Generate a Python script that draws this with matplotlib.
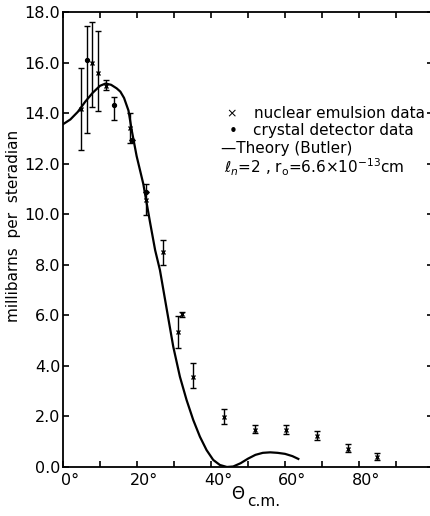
import numpy as np
import matplotlib.pyplot as plt
from matplotlib.transforms import ScaledTranslation

# ── data ─────────────────────────────────────────────────────────
# nuclear emulsion points (x markers) with error bar bottoms/tops
em_theta = [4.8, 7.9, 9.5, 11.6, 18.1, 22.3, 26.9, 31.2, 32.1, 35.2,
            43.6, 51.9, 60.2, 68.7, 76.9, 85.0]
em_sigma = [14.18, 15.98, 15.58, 15.06, 13.41, 10.55, 8.51, 5.35, 6.07, 3.57,
            1.99, 1.46, 1.46, 1.24, 0.71, 0.41]
em_low = [12.55, 14.24, 14.07, 14.90, 12.82, 9.96, 7.98, 4.69, 5.94, 3.11,
          1.70, 1.33, 1.30, 1.07, 0.61, 0.28]
em_high = [15.78, 17.60, 17.25, 15.30, 14.00, 11.21, 9.00, 5.97, 6.14, 4.10,
           2.28, 1.66, 1.66, 1.43, 0.90, 0.54]

# crystal detector points (dots)
cr_theta = [6.4, 13.9, 18.7, 22.3]
cr_sigma = [16.10, 14.34, 12.92, 10.88]
cr_low = [13.21, 13.72, 12.92, 10.88]
cr_high = [17.44, 14.64, 12.92, 10.88]

# Butler theory curve
th_theta = [0, 2, 4, 6, 8, 10, 11.5, 13, 14.5, 15.5, 16.5, 17.7, 18.6, 19.9,
            21.7, 23.5, 24.9, 26.2, 28.0, 29.8, 31.6, 33.4, 35.2, 37.0, 38.8,
            40.6, 42.4, 44.3, 46, 48, 50, 52, 54, 56, 58, 60, 62, 63.6]
th_sigma = [13.56, 13.75, 14.05, 14.45, 14.80, 15.08, 15.17, 15.12, 14.98,
            14.85, 14.60, 14.10, 13.30, 12.30, 11.20, 9.70, 8.58, 7.79, 6.27,
            4.76, 3.57, 2.65, 1.86, 1.20, 0.67, 0.28, 0.08, 0.0, 0.02, 0.15,
            0.33, 0.48, 0.56, 0.58, 0.56, 0.52, 0.43, 0.32]

x_ticks = list(range(0, 100, 10))
x_labels = ["0°", "", "20°", "", "40°", "", "60°", "", "80°", ""]
y_ticks = np.arange(0, 18.1, 2.0)

W, H = 431, 516
fig = plt.figure(figsize=(W / 100, H / 100), dpi=100)
ax = fig.add_axes([63 / W, (H - 467) / H, 370 / W, 455 / H])

# theory
ax.plot(th_theta, th_sigma, color="black", lw=1.6)

# emulsion data
em_err = [np.array(em_sigma) - np.array(em_low), np.array(em_high) - np.array(em_sigma)]
ax.errorbar(em_theta, em_sigma, yerr=em_err, fmt="x", color="black",
            ms=3.5, mew=1.0, elinewidth=1.0, capsize=2.5, capthick=1.0)

# crystal data
cr_err = [np.array(cr_sigma) - np.array(cr_low), np.array(cr_high) - np.array(cr_sigma)]
ax.errorbar(cr_theta, cr_sigma, yerr=cr_err, fmt="o", color="black",
            ms=2.8, elinewidth=1.0, capsize=2.5, capthick=1.0)

ax.set_xlim(0, 100)
ax.set_ylim(0, 18)
ax.set_xticks(x_ticks)
ax.set_xticklabels(x_labels)
ax.set_yticks(y_ticks)
ax.set_yticklabels([f"{v:.1f}" for v in y_ticks])
ax.tick_params(direction="in", length=4, width=1.2, top=True, right=True,
               labelsize=11.5, pad=2)
ax.tick_params(axis="x", pad=4)
# the degree labels sit a little right of their ticks in the original
shift = ScaledTranslation(7 / 100, 0, fig.dpi_scale_trans)
for lab in ax.get_xticklabels():
    lab.set_transform(lab.get_transform() + shift)
for s in ax.spines.values():
    s.set_linewidth(1.3)

# ── legend text, placed by hand like the original ───────────────
fs = 11
fig.text(226 / W, 1 - 114 / H, "×", fontsize=9, ha="left", va="center")
fig.text(254 / W, 1 - 114 / H, "nuclear emulsion data", fontsize=fs, va="center")
fig.text(229 / W, 1 - 131 / H, "•", fontsize=fs, ha="left", va="center")
fig.text(253 / W, 1 - 131 / H, "crystal detector data", fontsize=fs, va="center")
fig.text(221 / W, 1 - 148 / H, "—Theory (Butler)", fontsize=fs, va="center")
fig.text(224 / W, 1 - 167 / H, r"$\ell_n$=2 , r$_{\rm o}$=6.6×10$^{-13}$cm",
         fontsize=fs, va="center")

# axis labels
fig.text(14 / W, 1 - 226 / H, "millibarns  per  steradian", rotation=90,
         fontsize=fs, ha="center", va="center")
fig.text(238 / W, 1 - 494 / H, "Θ", fontsize=12, ha="center", va="center")
fig.text(247 / W, 1 - 502 / H, "c.m.", fontsize=fs, ha="left", va="center")

fig.savefig("out.png", dpi=100)
